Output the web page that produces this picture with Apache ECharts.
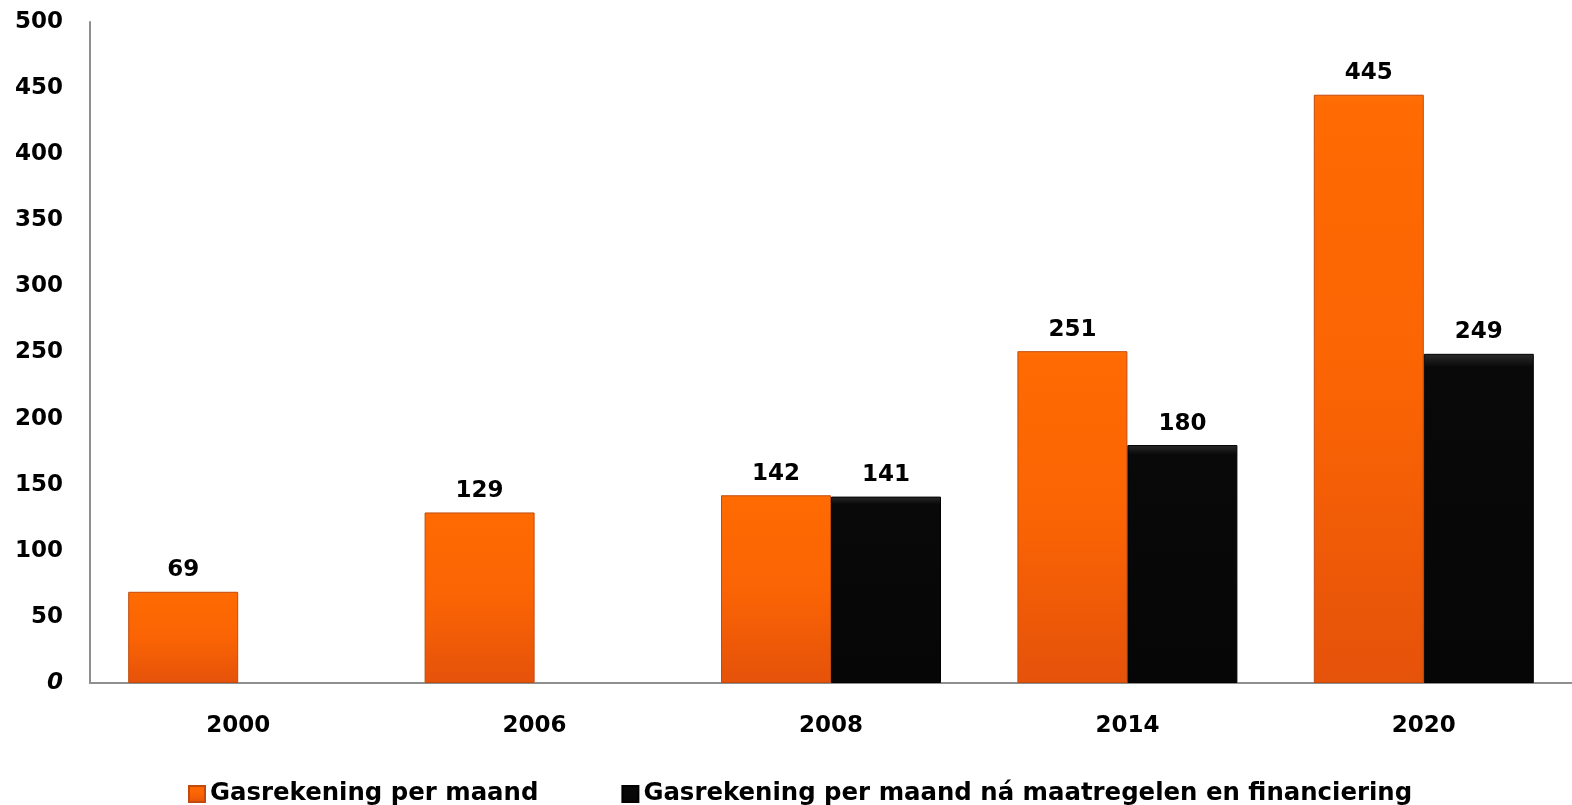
<!DOCTYPE html>
<html>
<head>
<meta charset="utf-8">
<title>Gasrekening per maand</title>
<script src="https://cdn.jsdelivr.net/npm/echarts@6/dist/echarts.min.js"></script>
<style>
  html, body { margin: 0; padding: 0; background: #ffffff; }
  #chart { width: 1572px; height: 805px; }
</style>
</head>
<body>
<div id="chart"></div>
<script>
// Years on the horizontal axis
const years = ['2000', '2006', '2008', '2014', '2020'];

// Monthly gas bill, without and with measures + financing
const billPerMonth = [69, 129, 142, 251, 445];
const billAfterMeasures = [null, null, 141, 180, 249];

// Series names shown in the legend
const seriesNames = [
  'Gasrekening per maand',
  'Gasrekening per maand ná maatregelen en financiering'
];

// Value axis ticks
const yMin = 0;
const yMax = 500;
const yStep = 50;

const FONT = '"DejaVu Sans", "Liberation Sans", Arial, sans-serif';

const orangeFill = new echarts.graphic.LinearGradient(0, 0, 0, 1, [
  { offset: 0, color: '#ff7008' },
  { offset: 0.02, color: '#ff6a02' },
  { offset: 0.5, color: '#fb6404' },
  { offset: 1, color: '#e5520a' }
]);
const blackFill = new echarts.graphic.LinearGradient(0, 0, 0, 1, [
  { offset: 0, color: '#2a2a2a' },
  { offset: 0.04, color: '#090909' },
  { offset: 1, color: '#060606' }
]);

const valueLabel = {
  show: true,
  position: 'top',
  distance: 10,
  color: '#000000',
  fontFamily: FONT,
  fontWeight: 'bold',
  fontSize: 23
};

const chart = echarts.init(document.getElementById('chart'), null, { renderer: 'canvas' });

chart.setOption({
  animation: false,
  backgroundColor: '#ffffff',
  grid: {
    left: 90,
    top: 22,
    width: 1484,
    height: 661,
    containLabel: false
  },
  legend: {
    left: 183,
    top: 776,
    itemWidth: 16,
    itemHeight: 16,
    itemGap: 83,
    icon: 'rect',
    textStyle: {
      color: '#000000',
      fontFamily: FONT,
      fontWeight: 'bold',
      fontSize: 24.4,
      lineHeight: 26
    },
    data: seriesNames
  },
  xAxis: {
    type: 'category',
    data: years,
    axisLine: { show: true, lineStyle: { color: '#8f8f8f', width: 2 } },
    axisTick: { show: false },
    axisLabel: {
      margin: 32,
      color: '#000000',
      fontFamily: FONT,
      fontWeight: 'bold',
      fontSize: 23
    },
    splitLine: { show: false }
  },
  yAxis: {
    type: 'value',
    min: yMin,
    max: yMax,
    interval: yStep,
    axisLine: { show: true, lineStyle: { color: '#8f8f8f', width: 2 } },
    axisTick: { show: false },
    splitLine: { show: false },
    axisLabel: {
      margin: 27,
      color: '#000000',
      fontFamily: FONT,
      fontWeight: 'bold',
      fontSize: 23,
      formatter: function (v) {
        return v === 0 ? '{zero|0}' : String(v);
      },
      rich: {
        zero: {
          fontStyle: 'italic',
          fontFamily: FONT,
          fontWeight: 'bold',
          fontSize: 23,
          color: '#000000'
        }
      }
    }
  },
  series: [
    {
      name: seriesNames[0],
      type: 'bar',
      data: billPerMonth,
      barWidth: 110,
      barGap: '0%',
      itemStyle: {
        color: orangeFill,
        borderColor: '#c24a0c',
        borderWidth: 1
      },
      label: valueLabel
    },
    {
      name: seriesNames[1],
      type: 'bar',
      data: billAfterMeasures,
      barWidth: 110,
      barGap: '0%',
      itemStyle: {
        color: blackFill,
        borderColor: '#000000',
        borderWidth: 1
      },
      label: valueLabel
    }
  ]
});
</script>
</body>
</html>
